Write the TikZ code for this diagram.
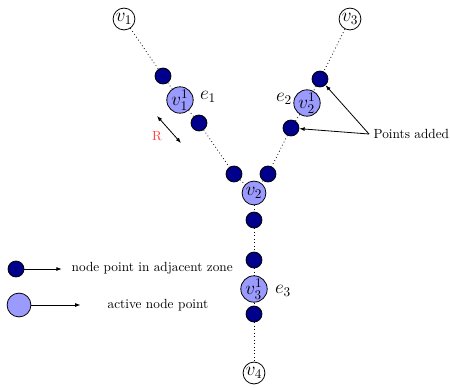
\documentclass[tikz,border=0pt]{standalone}
\usepackage{amsmath}
\usepackage{xcolor}
\usepackage{tikz}
\usetikzlibrary{arrows.meta, positioning}
\definecolor{adjcol}{RGB}{0,0,140}
\definecolor{actcol}{RGB}{155,155,255}

\begin{document}
\begin{tikzpicture}[
  x=0.754pt, y=-0.754pt,
  vert/.style={circle, draw, line width=0.6pt, fill=white, inner sep=0.4pt,
    minimum size=16.5pt, font=\Large},
  adj/.style={circle, draw, line width=0.6pt, fill=adjcol, inner sep=0pt,
    minimum size=12pt},
  act/.style={circle, draw, line width=0.6pt, fill=actcol, inner sep=0pt,
    minimum size=18pt, font=\Large},
  edge/.style={dotted, line width=0.6pt},
  lbl/.style={font=\Large},
  arr/.style={-{Latex[length=4pt, width=3pt]}, line width=0.6pt}
]
  \useasboundingbox (0,0) rectangle (450,387);

  % vertices
  \node[vert] (v1) at (124,19) {$v_1$};
  \node[vert] (v3) at (350,19) {$v_3$};
  \node[vert] (v4) at (254,373) {$v_4$};
  \node[act]  (v2) at (254,193) {$v_2$};

  % edge e1
  \node[adj] (a11) at (163,76) {};
  \node[act] (u1)  at (180,100) {$v_1^1$};
  \node[adj] (a12) at (199,123) {};
  \node[adj] (a13) at (234,174) {};
  % edge e2
  \node[adj] (a21) at (320,79) {};
  \node[act] (u2)  at (307,103) {$v_2^1$};
  \node[adj] (a22) at (291,128) {};
  \node[adj] (a23) at (268,174) {};
  % edge e3
  \node[adj] (a31) at (254,220) {};
  \node[adj] (a32) at (254,260) {};
  \node[act] (u3)  at (254,289) {$v_3^1$};
  \node[adj] (a33) at (254,314) {};

  \draw[edge] (v1) -- (a11) -- (u1) -- (a12) -- (a13) -- (v2);
  \draw[edge] (v3) -- (a21) -- (u2) -- (a22) -- (a23) -- (v2);
  \draw[edge] (v2) -- (a31) -- (a32) -- (u3) -- (a33) -- (v4);

  \node[lbl] (e1) at (208,97) {$e_1$};
  \node[lbl] (e2) at (284,99) {$e_2$};
  \node[lbl] (e3) at (283,291) {$e_3$};

  % radius
  \coordinate (r1) at (157,116);
  \coordinate (r2) at (181,143);
  \draw[{Latex[length=4pt, width=3pt]}-{Latex[length=4pt, width=3pt]},
    line width=0.6pt] (r1) -- (r2);
  \node[red!75] (rr) at (157,136) {R};

  % added points
  \node[anchor=west] (pa) at (369,134) {Points added};
  \draw[arr] (pa.west) -- (a21);
  \draw[arr] (pa.west) -- (a22);

  % legend
  \node[adj] (ld) at (16,269) {};
  \node[anchor=west] (lt1) at (67,268) {node point in adjacent zone};
  \draw[arr, shorten >=4pt] (ld) -- (ld -| lt1.west);
  \node[act] (la) at (19,305) {};
  \node[anchor=west] (lt2) at (103,305) {active node point};
  \draw[arr, shorten >=17pt] (la) -- (la -| lt2.west);

\end{tikzpicture}
\end{document}
